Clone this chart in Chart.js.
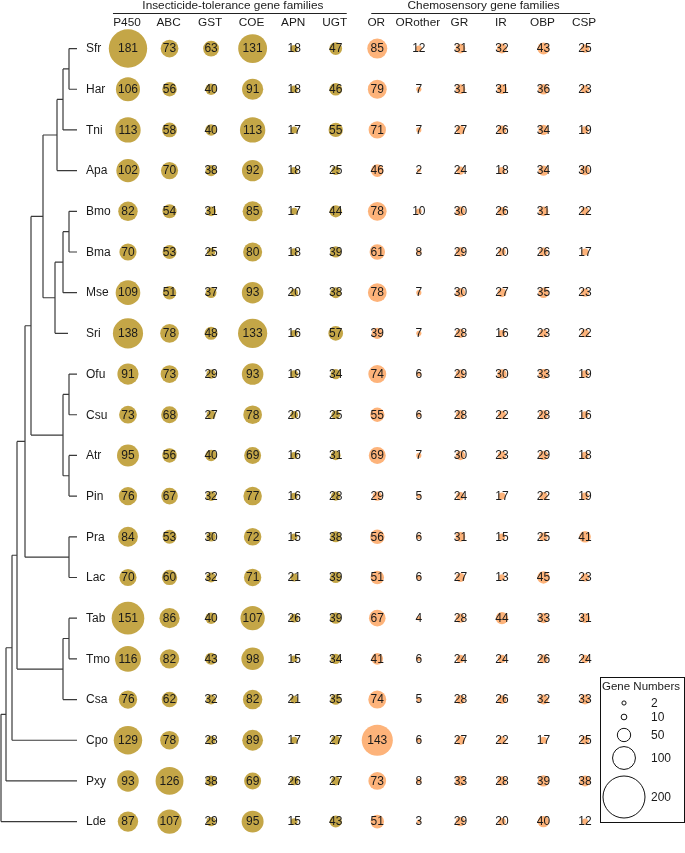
<!DOCTYPE html>
<html><head><meta charset="utf-8">
<script src="https://cdn.jsdelivr.net/npm/chart.js@4/dist/chart.umd.min.js"></script>
<style>html,body{margin:0;padding:0;background:#fff;} canvas{display:block;}</style>
</head><body>
<canvas id="c" width="685" height="853"></canvas>
<script>
// ---------- data ----------
const species = ['Sfr','Har','Tni','Apa','Bmo','Bma','Mse','Sri','Ofu','Csu','Atr','Pin','Pra','Lac','Tab','Tmo','Csa','Cpo','Pxy','Lde'];
const insectFamilies = ['P450','ABC','GST','COE','APN','UGT'];
const chemoFamilies = ['OR','ORother','GR','IR','OBP','CSP'];
const groupTitles = ['Insecticide-tolerance gene families','Chemosensory gene families'];

const P450 = [181,106,113,102,82,70,109,138,91,73,95,76,84,70,151,116,76,129,93,87];
const ABC  = [73,56,58,70,54,53,51,78,73,68,56,67,53,60,86,82,62,78,126,107];
const GST  = [63,40,40,38,31,25,37,48,29,27,40,32,30,32,40,43,32,28,38,29];
const COE  = [131,91,113,92,85,80,93,133,93,78,69,77,72,71,107,98,82,89,69,95];
const APN  = [18,18,17,18,17,18,20,16,19,20,16,16,15,21,26,15,21,17,26,15];
const UGT  = [47,46,55,25,44,39,38,57,34,25,31,28,38,39,39,34,35,27,27,43];
const OR      = [85,79,71,46,78,61,78,39,74,55,69,29,56,51,67,41,74,143,73,51];
const ORother = [12,7,7,2,10,8,7,7,6,6,7,5,6,6,4,6,5,6,8,3];
const GR      = [31,31,27,24,30,29,30,28,29,28,30,24,31,27,28,24,28,27,33,29];
const IR      = [32,31,26,18,26,20,27,16,30,22,23,17,15,13,44,24,26,22,28,20];
const OBP     = [43,36,34,34,31,26,35,23,33,28,29,22,25,45,33,26,32,17,39,40];
const CSP     = [25,23,19,30,22,17,23,22,19,16,18,19,41,23,31,24,33,25,38,12];
const legendTitle = 'Gene Numbers';
const legendSizes = [2,10,50,100,200];

// phylogeny: internal nodes with depth (tree units from root), leaves with tip depth
const tree = {d:1, c:[
  {d:6, c:[
    {d:12, c:[
      {d:17, c:[
        {d:25, c:[
          {d:31, c:[
            {d:43, c:[
              {d:57, c:[
                {d:63, c:[ {d:69, c:[{leaf:'Sfr',d:77},{leaf:'Har',d:77}]}, {leaf:'Tni',d:77} ]},
                {leaf:'Apa',d:77}
              ]},
              {d:55, c:[
                {d:63, c:[ {d:69, c:[{leaf:'Bmo',d:77},{leaf:'Bma',d:77}]}, {leaf:'Mse',d:77} ]},
                {leaf:'Sri',d:68}
              ]}
            ]},
            {d:63, c:[ {d:69, c:[{leaf:'Ofu',d:77},{leaf:'Csu',d:77}]}, {d:69, c:[{leaf:'Atr',d:77},{leaf:'Pin',d:77}]} ]}
          ]},
          {d:69, c:[{leaf:'Pra',d:77},{leaf:'Lac',d:77}]}
        ]},
        {d:63, c:[ {d:69, c:[{leaf:'Tab',d:77},{leaf:'Tmo',d:77}]}, {leaf:'Csa',d:77} ]}
      ]},
      {leaf:'Cpo',d:77}
    ]},
    {leaf:'Pxy',d:77}
  ]},
  {leaf:'Lde',d:77}
]};

// ---------- build ----------
const insectSeries = [P450, ABC, GST, COE, APN, UGT];
const chemoSeries = [OR, ORother, GR, IR, OBP, CSP];
const radius = v => 1.9 + v * 0.0955;
function points(list, offset){
  const pts = [];
  list.forEach((arr, j) => arr.forEach((v, i) => pts.push({x: j + offset, y: i, r: radius(v), v})));
  return pts;
}
const families = insectFamilies.concat(chemoFamilies);
const FONT = '"Liberation Sans", Arial, sans-serif';

const overlay = {
  id: 'overlay',
  afterDatasetsDraw(chart){
    const ctx = chart.ctx, xs = chart.scales.x, ys = chart.scales.y;
    ctx.save();
    // value labels
    ctx.fillStyle = '#1a1a1a';
    ctx.font = '12px ' + FONT;
    ctx.textAlign = 'center'; ctx.textBaseline = 'middle';
    chart.data.datasets.forEach(ds => ds.data.forEach(p => {
      ctx.fillText(String(p.v), xs.getPixelForValue(p.x), ys.getPixelForValue(p.y) + 0.5);
    }));
    // column headers
    ctx.font = '11.8px ' + FONT;
    families.forEach((f, j) => ctx.fillText(f, xs.getPixelForValue(j) - 1, 22.5));
    // group titles with underline
    const groups = [[0,5,15,11],[6,11,6,5]];
    groups.forEach((g, k) => {
      const x0 = xs.getPixelForValue(g[0]) - g[2], x1 = xs.getPixelForValue(g[1]) + g[3];
      ctx.fillText(groupTitles[k], (x0 + x1) / 2 + 3, 6);
      ctx.strokeStyle = '#222'; ctx.lineWidth = 1;
      ctx.beginPath(); ctx.moveTo(x0, 13.5); ctx.lineTo(x1, 13.5); ctx.stroke();
    });
    // species labels
    ctx.textAlign = 'left';
    ctx.font = '12px ' + FONT;
    species.forEach((s, i) => ctx.fillText(s, 86, ys.getPixelForValue(i) + 0.5));
    // tree
    ctx.strokeStyle = '#3a3a3a'; ctx.lineWidth = 1.2; ctx.lineCap = 'butt';
    const tx = d => d;
    function layout(n){
      if (n.leaf) { n.y = ys.getPixelForValue(species.indexOf(n.leaf)); return n.y; }
      const yc = n.c.map(layout);
      n.y = (Math.min(...yc) + Math.max(...yc)) / 2;
      return n.y;
    }
    layout(tree);
    function draw(n){
      if (n.leaf) return;
      const ys_ = n.c.map(c => c.y);
      ctx.beginPath();
      ctx.moveTo(tx(n.d), Math.min(...ys_)); ctx.lineTo(tx(n.d), Math.max(...ys_));
      n.c.forEach(c => { ctx.moveTo(tx(n.d), c.y); ctx.lineTo(tx(c.d), c.y); });
      ctx.stroke();
      n.c.forEach(draw);
    }
    draw(tree);
    // legend
    const bx = 600, by = 677, bw = 84, bh = 145;
    ctx.strokeStyle = '#111'; ctx.lineWidth = 1;
    ctx.strokeRect(bx + 0.5, by + 0.5, bw, bh);
    ctx.font = '11.5px ' + FONT; ctx.textAlign = 'left';
    ctx.fillText(legendTitle, 602, 687);
    const ly = [703, 717, 735, 758, 797];
    ctx.font = '12px ' + FONT;
    legendSizes.forEach((v, k) => {
      ctx.beginPath(); ctx.arc(624, ly[k], radius(v), 0, Math.PI * 2);
      ctx.strokeStyle = '#111'; ctx.lineWidth = 1; ctx.stroke();
      ctx.fillText(String(v), 651, ly[k] + 0.5);
    });
    ctx.restore();
  }
};

new Chart(document.getElementById('c'), {
  type: 'bubble',
  data: { datasets: [
    { data: points(insectSeries, 0), backgroundColor: '#c4a647', borderWidth: 0, hoverRadius: 0, clip: false },
    { data: points(chemoSeries, 6), backgroundColor: '#fdb37a', borderWidth: 0, hoverRadius: 0, clip: false }
  ]},
  options: {
    responsive: false, animation: false, events: [],
    layout: { padding: { left: 107.2, right: 79.2, top: 28.2, bottom: 0.5 } },
    scales: {
      x: { type: 'linear', min: -0.5, max: 11.5, display: false },
      y: { type: 'linear', min: -0.5, max: 19.3, reverse: true, display: false }
    },
    plugins: { legend: { display: false }, tooltip: { enabled: false } }
  },
  plugins: [overlay]
});
</script>
</body></html>
